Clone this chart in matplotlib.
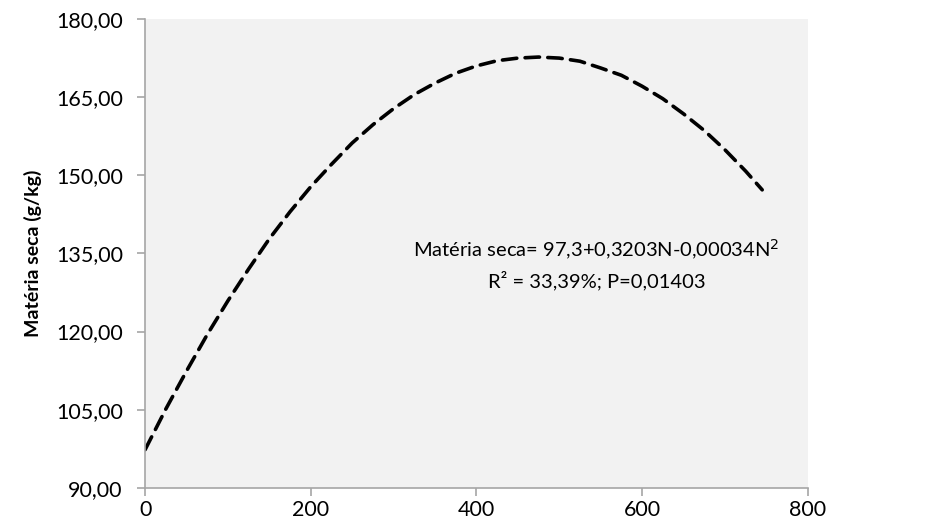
import matplotlib
matplotlib.use("Agg")
import matplotlib.pyplot as plt
from matplotlib.ticker import FuncFormatter

plt.rcParams['font.family'] = ['Lato', 'DejaVu Sans']

# doses de N (x) e matéria seca (y)
dose_n = [0, 25, 50, 75, 100, 125, 150, 175, 200, 225, 250, 275, 300, 325, 350, 375,
          400, 425, 450, 475, 500, 525, 550, 575, 600, 625, 650, 675, 700, 725, 745]
materia_seca = [97.3, 105.1, 112.4, 119.4, 125.9, 132.0, 137.8, 143.0, 147.8, 152.1,
                156.2, 159.7, 162.8, 165.5, 167.7, 169.6, 171.0, 172.0, 172.5, 172.7,
                172.5, 171.9, 170.6, 169.2, 167.1, 164.7, 161.8, 158.6, 154.9, 150.8, 147.2]

x_ticks = [0, 200, 400, 600, 800]
y_ticks = [90, 105, 120, 135, 150, 165, 180]

fig = plt.figure(figsize=(9.36, 5.29), dpi=100)
ax = fig.add_axes([0.155, 0.078, 0.708, 0.886])
ax.set_facecolor('#F2F2F2')

ax.plot(dose_n, materia_seca, color='black', lw=2.6, ls=(0, (4.0, 2.3)),
        dash_capstyle='round', solid_capstyle='round')

ax.set_xlim(0, 800)
ax.set_ylim(90, 180)
ax.set_xticks(x_ticks)
ax.set_yticks(y_ticks)
ax.yaxis.set_major_formatter(FuncFormatter(lambda v, p: f"{v:.2f}".replace('.', ',')))

for s in ['top', 'right']:
    ax.spines[s].set_visible(False)
for s in ['left', 'bottom']:
    ax.spines[s].set_color('#A6A6A6')
    ax.spines[s].set_linewidth(1.2)
ax.tick_params(direction='out', length=6, width=1.2, color='#A6A6A6',
               labelsize=15.5, labelcolor='black')
ax.tick_params(axis='x', pad=3)
ax.tick_params(axis='y', pad=10)

ax.set_ylabel('Matéria seca (g/kg)', fontsize=14, fontweight='bold', labelpad=10)

ax.text(545, 135.6, 'Matéria seca= 97,3+0,3203N-0,00034N$^2$', ha='center', va='center',
        fontsize=14.5)
ax.text(545, 129.8, 'R² = 33,39%; P=0,01403', ha='center', va='center', fontsize=14.5)

fig.savefig('out.png', dpi=100)
